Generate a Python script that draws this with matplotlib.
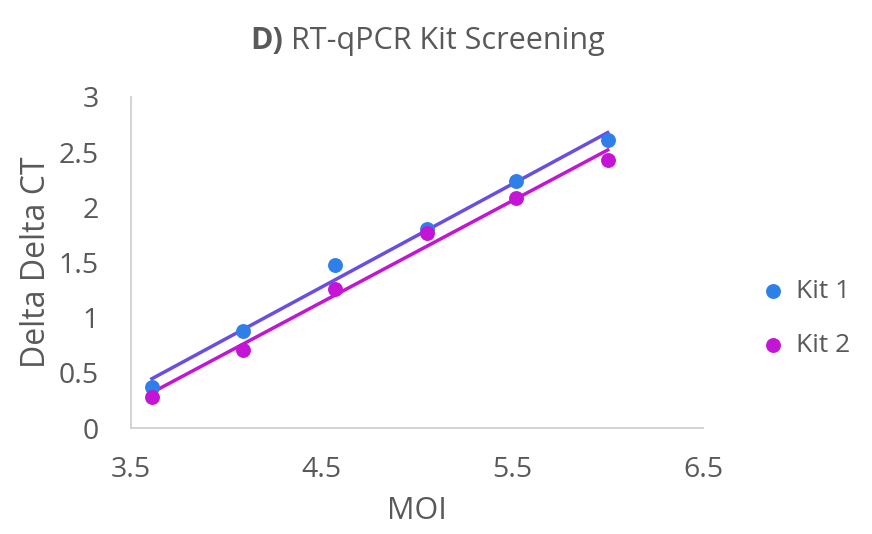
import numpy as np
import matplotlib
matplotlib.use("Agg")
import matplotlib.pyplot as plt

# MOI (log10), 3-fold dilutions
moi = [3.61, 4.09, 4.57, 5.05, 5.52, 6.00]
kit1 = [0.37, 0.88, 1.48, 1.80, 2.24, 2.61]
kit2 = [0.28, 0.71, 1.26, 1.77, 2.08, 2.43]
series_names = ["Kit 1", "Kit 2"]
x_ticks = [3.5, 4.5, 5.5, 6.5]
y_ticks = [0, 0.5, 1, 1.5, 2, 2.5, 3]

GREY = "#595959"
plt.rcParams['font.family'] = ['Open Sans', 'DejaVu Sans']

fig = plt.figure(figsize=(8.72, 5.34), dpi=100)
ax = fig.add_axes([0.1502, 0.1985, 0.656, 0.62])

dot_colors = ["#2E7FE8", "#C414D6"]
line_colors = ["#6A4DE4", "#C414D6"]

for vals, name, dc, lc in zip([kit1, kit2], series_names, dot_colors, line_colors):
    ax.scatter(moi, vals, s=115, color=dc, label=name, zorder=3, linewidths=0)
    # linear trendline
    slope, icpt = np.polyfit(moi, vals, 1)
    xs = np.array([moi[0], moi[-1]])
    ax.plot(xs, slope * xs + icpt, color=lc, lw=2.5, zorder=2)

ax.set_xlim(3.5, 6.5)
ax.set_ylim(0, 3)
ax.set_xticks(x_ticks)
ax.set_xticklabels([str(t) for t in x_ticks])
ax.set_yticks(y_ticks)
ax.set_yticklabels(["0", "0.5", "1", "1.5", "2", "2.5", "3"])
ax.tick_params(length=0, labelsize=20.5, colors=GREY)
ax.tick_params(axis='x', pad=20)
ax.tick_params(axis='y', pad=23)

for s in ["top", "right"]:
    ax.spines[s].set_visible(False)
for s in ["left", "bottom"]:
    ax.spines[s].set_color("#D0D0D0")
    ax.spines[s].set_linewidth(1.3)

ax.set_xlabel("MOI", fontsize=22, color=GREY, labelpad=9)
ax.set_ylabel("Delta Delta CT", fontsize=23, color=GREY, labelpad=4)

fig.text(250 / 872, 1 - 49 / 534, "D)", fontsize=22, color=GREY, fontweight="bold",
         ha="left", va="baseline")
fig.text(291 / 872, 1 - 49 / 534, "RT-qPCR Kit Screening", fontsize=22, color=GREY,
         ha="left", va="baseline")

leg = ax.legend(loc="center left", bbox_to_anchor=(1.0815, 0.331), frameon=False,
                fontsize=19, handlelength=1.0, handletextpad=0.35, labelspacing=1.1,
                borderaxespad=0, scatterpoints=1)
for t in leg.get_texts():
    t.set_color(GREY)

fig.savefig("out.png", dpi=100, facecolor="white")
